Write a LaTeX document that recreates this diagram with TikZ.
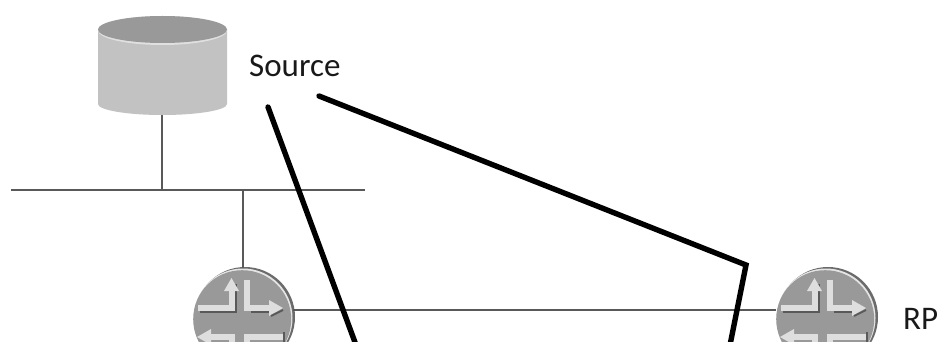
\documentclass[tikz,border=0pt]{standalone}
\usepackage{fontspec}
\setmainfont{Carlito}
\definecolor{routerface}{gray}{0.6}
\definecolor{routerrim}{gray}{0.42}
\definecolor{routerbar}{gray}{0.87}
\definecolor{routershade}{gray}{0.35}
\definecolor{dbside}{gray}{0.76}
\definecolor{dbtop}{gray}{0.6}
\definecolor{wire}{gray}{0.35}
\tikzset{
  wireline/.style={draw=wire,line width=2.4pt},
  boldline/.style={draw=black,line width=5.4pt,line join=miter,line cap=round},
  lbl/.style={inner sep=0pt,anchor=west,text=black!90,font=\fontsize{33}{33}\selectfont},
  routerdisc/.style={circle,minimum size=100pt,inner sep=0pt},
  barline/.style={draw=routerbar,line width=6pt,line join=miter},
  barshade/.style={draw=routershade,line width=1.8pt},
  bartip/.style={fill=routerbar,draw=none}
}
\newcommand{\routerart}[1]{%
  \begin{scope}[shift={(#1)}]
    \fill[routerrim] (2,-1) circle (50pt);
    \fill[white!90!black] (0,0) circle (49.5pt);
    \fill[routerface] (-0.8,1.2) circle (49pt);
    \draw[barshade] (-7,-34) -- (-7,-6) -- (-43,-6);
    \draw[barshade] (8,-6) -- (30,-6);
    \draw[barline] (-45,-10) -- (-11.5,-10) -- (-11.5,-28);
    \fill[bartip] (-19,-27) -- (-11.5,-40) -- (-4,-27) -- cycle;
    \draw[barline] (4,-38) -- (4,-10) -- (27,-10);
    \fill[bartip] (26,-18) -- (40,-10) -- (26,-2) -- cycle;
    \draw[routershade,line width=1.8pt] (28,-2) -- (40,-8);
    \draw[barline] (-32,19) -- (-11.5,19) -- (-11.5,40);
    \fill[bartip] (-32,11) -- (-46,19) -- (-32,27) -- cycle;
    \draw[barline] (4,40) -- (4,19) -- (42,19);
    \draw[barshade] (-8,40) -- (-8,24);
    \draw[barshade] (41,14) -- (41,24);
  \end{scope}}
\begin{document}
\begin{tikzpicture}[x=1pt,y=-1pt]
  \useasboundingbox (0,0) rectangle (941,342);
  \clip (0,0) rectangle (941,342);
  % source cylinder
  \fill[dbside] (98,29.5) -- (98,104) arc[x radius=64.5,y radius=11,start angle=180,end angle=0] -- (227,29.5) -- cycle;
  \fill[white!88!black] (162.5,30.5) ellipse[x radius=64.5,y radius=14.5];
  \fill[dbtop] (162.5,29.5) ellipse[x radius=64.5,y radius=13.5];
  \node[inner sep=0pt,minimum size=0pt] (db) at (162,115) {};
  \coordinate (busL) at (11,190);
  \coordinate (busR) at (365,190);
  \coordinate (busA) at (162,190);
  \coordinate (busB) at (243,190);
  \routerart{243,318}
  \routerart{826,318}
  \node[routerdisc] (r1) at (243,318) {};
  \node[routerdisc] (r2) at (826,318) {};
  \node[lbl] (src) at (249,66) {Source};
  \node[lbl] (rp) at (903,319) {RP};
  \draw[wireline] (db) -- (busA);
  \draw[wireline] (busL) -- (busR);
  \draw[wireline] (busB) -- (r1.north);
  \draw[wireline] (r1.east |- 0,310) -- (r2.west |- 0,310);
  \coordinate (a1) at (268,107);
  \coordinate (a2) at (356,345);
  \coordinate (b1) at (319,96);
  \coordinate (b2) at (746,265);
  \coordinate (b3) at (730,345);
  \draw[boldline] (a1) -- (a2);
  \draw[boldline] (b1) -- (b2) -- (b3);
\end{tikzpicture}
\end{document}
